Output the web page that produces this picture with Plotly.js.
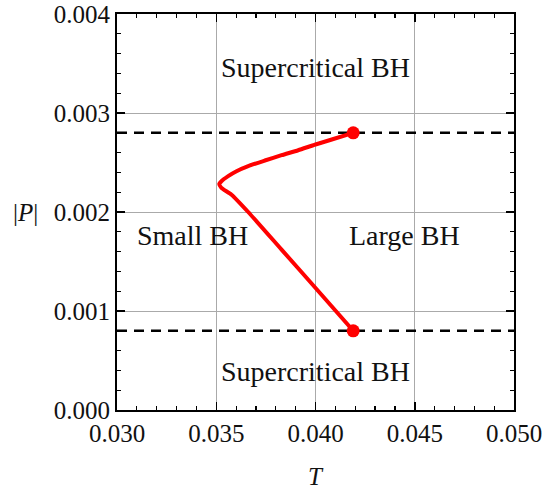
<!DOCTYPE html>
<html>
<head>
<meta charset="utf-8">
<script src="https://cdn.plot.ly/plotly-3.0.1.min.js"></script>
<style>html,body{margin:0;padding:0;background:#fff;}</style>
</head>
<body>
<div id="chart" style="width:543px;height:491px;"></div>
<script>
// Coexistence curve (T, |P|)
const curveT = [0.0419, 0.04082, 0.0400, 0.03913, 0.03829, 0.03745, 0.03661, 0.03602, 0.0356, 0.03526, 0.03515, 0.03526, 0.03577, 0.03661, 0.03829, 0.03997, 0.0419];
const curveP = [0.0028, 0.002732, 0.002682, 0.002624, 0.002574, 0.00252, 0.002463, 0.002412, 0.002362, 0.002311, 0.002283, 0.002244, 0.002175, 0.002000, 0.001620, 0.001240, 0.0008];
// Critical points
const critT = [0.0419, 0.0419];
const critP = [0.0028, 0.0008];
// Dashed critical-pressure lines
const lineT = [0.030, 0.050];
// Region labels
const labelText = ["Supercritical BH", "Small BH", "Large BH", "Supercritical BH"];
const labelT = [0.0400, 0.0338, 0.0445, 0.0400];
const labelP = [0.00346, 0.00176, 0.00176, 0.00039];
// Ticks
const xTicks = [0.030, 0.035, 0.040, 0.045, 0.050];
const xTickText = ["0.030", "0.035", "0.040", "0.045", "0.050"];
const yTicks = [0.000, 0.001, 0.002, 0.003, 0.004];
const yTickText = ["0.000", "0.001", "0.002", "0.003", "0.004"];

const FONT = "Liberation Serif, Times New Roman, serif";
const TXT = '#111';

const traces = [];
critP.forEach(function (p) {
  traces.push({
    x: lineT, y: [p, p], mode: 'lines', type: 'scatter',
    line: {color: '#000', width: 2.5, dash: '10px,7px'},
    hoverinfo: 'skip', showlegend: false
  });
});
traces.push({
  x: curveT, y: curveP, mode: 'lines', type: 'scatter',
  line: {color: '#ff0000', width: 4, shape: 'spline', smoothing: 0.6},
  showlegend: false
});
traces.push({
  x: critT, y: critP, mode: 'markers', type: 'scatter',
  marker: {color: '#ff0000', size: 13},
  showlegend: false
});

const annotations = labelText.map(function (t, i) {
  return {x: labelT[i], y: labelP[i], xref: 'x', yref: 'y', text: t, showarrow: false,
    font: {family: FONT, size: 28, color: TXT}};
});
annotations.push({x: -0.231, y: 0.0020, xref: 'paper', yref: 'y', text: '|<i>P</i>|', showarrow: false,
  xanchor: 'center', yanchor: 'middle',
  font: {family: FONT, size: 25, color: TXT}});
annotations.push({x: 0.5, y: -0.169, xref: 'paper', yref: 'paper', text: '<i>T</i>', showarrow: false,
  xanchor: 'center', yanchor: 'middle',
  font: {family: FONT, size: 25, color: TXT}});

const axisCommon = {
  showline: true, linecolor: '#000', linewidth: 2, mirror: 'ticks',
  ticks: 'inside', ticklen: 8, tickwidth: 1.5, tickcolor: '#000',
  showgrid: true, gridcolor: '#aaaaaa', gridwidth: 1, zeroline: false,
  tickfont: {family: FONT, size: 25, color: TXT},
  tickmode: 'array'
};

const layout = {
  width: 543, height: 491,
  margin: {l: 117, r: 29, t: 14, b: 81},
  paper_bgcolor: '#fff', plot_bgcolor: '#fff',
  showlegend: false,
  xaxis: Object.assign({}, axisCommon, {
    range: [0.030, 0.050], tickvals: xTicks, ticktext: xTickText,
    minor: {dtick: 0.001, ticks: 'inside', ticklen: 4, tickcolor: '#000', tickwidth: 1.2, showgrid: false}
  }),
  yaxis: Object.assign({}, axisCommon, {
    range: [0, 0.004], tickvals: yTicks, ticktext: yTickText,
    minor: {dtick: 0.0002, ticks: 'inside', ticklen: 4, tickcolor: '#000', tickwidth: 1.2, showgrid: false}
  }),
  annotations: annotations
};

Plotly.newPlot('chart', traces, layout, {staticPlot: true, displayModeBar: false});
</script>
</body>
</html>
